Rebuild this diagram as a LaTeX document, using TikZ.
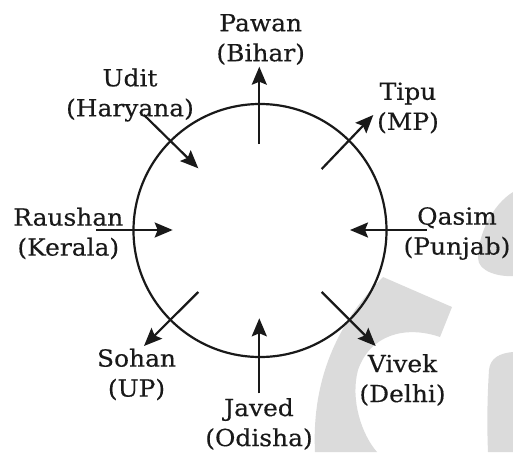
\documentclass[tikz,border=0pt]{standalone}
\usepackage{fontspec}
\setmainfont{DejaVu Serif}[FakeStretch=1.06,FakeBold=0.35]
\usetikzlibrary{arrows.meta}
\definecolor{wmgray}{gray}{0.86}
\definecolor{ink}{gray}{0.1}
\tikzset{
  lbl/.style={align=center, inner sep=0pt, text=ink,
    font=\fontsize{23.5}{30}\selectfont},
  arr/.style={line width=2.2pt, draw=ink,
    -{Stealth[length=18pt,width=15pt,inset=3pt]}},
  ring/.style={draw=ink, line width=2.2pt, circle, minimum size=253pt, inner sep=0pt},
  wm/.style={fill=wmgray, draw=none}
}
\begin{document}
\begin{tikzpicture}[x=1pt,y=-1pt]
\useasboundingbox (0,0) rectangle (513,452);
% watermark
\fill[wm] (513,192) .. controls (492,205) and (478,235) .. (478,258)
  .. controls (478,272) and (500,277) .. (513,276) -- cycle;
\fill[wm] (383,277) -- (452,307) -- (440,337)
  .. controls (405,325) and (370,335) .. (358,370)
  .. controls (350,400) and (362,435) .. (377,452) -- (315,452)
  .. controls (312,390) and (330,330) .. (383,277) -- cycle;
\fill[wm] (513,352) .. controls (500,353) and (490,358) .. (489,370)
  .. controls (487,400) and (487,430) .. (488,452) -- (513,452) -- cycle;
% circle
\node[ring] (c) at (260,230.5) {};
% labels
\node[lbl] (pawan) at (260.7,39.5) {Pawan\\(Bihar)};
\node[lbl] (udit) at (130,95) {Udit\\(Haryana)};
\node[lbl] (tipu) at (408,108) {Tipu\\(MP)};
\node[lbl] (raushan) at (68.3,233.5) {Raushan\\(Kerala)};
\node[lbl] (qasim) at (457,233.5) {Qasim\\(Punjab)};
\node[lbl] (sohan) at (136.5,374.5) {Sohan\\(UP)};
\node[lbl] (vivek) at (402.5,380) {Vivek\\(Delhi)};
\node[lbl] (javed) at (259,424) {Javed\\(Odisha)};
% arrow end points
\coordinate (pA) at (259.3,144);   \coordinate (pB) at (259.3,66.7);
\coordinate (tA) at (321.7,169);   \coordinate (tB) at (373.3,115);
\coordinate (qA) at (426.7,230);   \coordinate (qB) at (350,230);
\coordinate (vA) at (321.7,292);   \coordinate (vB) at (375.7,346);
\coordinate (jA) at (259.3,393.3); \coordinate (jB) at (259.3,318.3);
\coordinate (sA) at (198.3,292);   \coordinate (sB) at (144,346);
\coordinate (rA) at (96,230);      \coordinate (rB) at (172.7,230);
\coordinate (uA) at (144,115);     \coordinate (uB) at (198.3,168.3);
\draw[arr] (pA) -- (pB);
\draw[arr] (tA) -- (tB);
\draw[arr] (qA) -- (qB);
\draw[arr] (vA) -- (vB);
\draw[arr] (jA) -- (jB);
\draw[arr] (sA) -- (sB);
\draw[arr] (rA) -- (rB);
\draw[arr] (uA) -- (uB);
\end{tikzpicture}
\end{document}
